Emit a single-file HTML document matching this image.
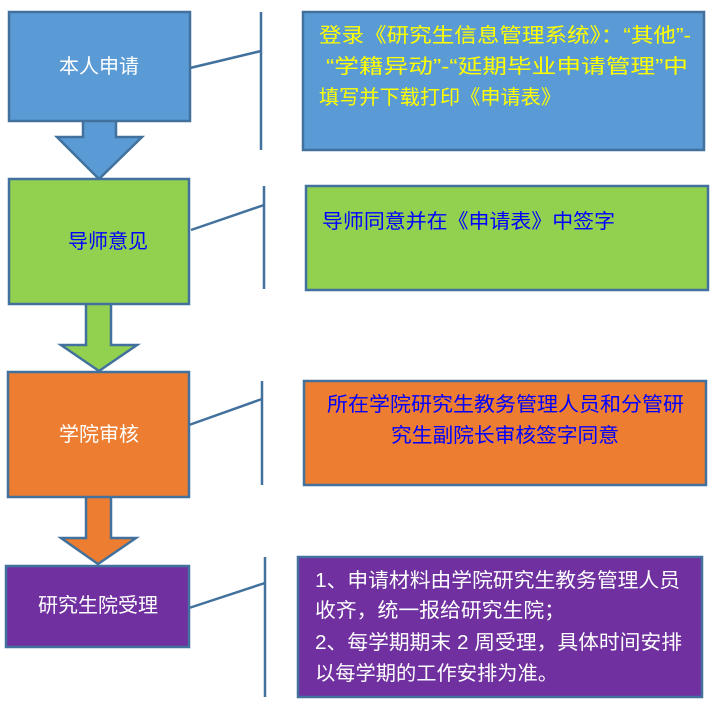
<!DOCTYPE html>
<html><head><meta charset="utf-8"><style>
html,body{margin:0;padding:0;background:#fff;}
svg{display:block;}
text{font-family:"Liberation Sans","Noto Sans CJK SC",sans-serif;font-size:20px;}
</style></head><body>
<svg width="716" height="705" viewBox="0 0 716 705" xmlns="http://www.w3.org/2000/svg">
<g stroke="#41719c" stroke-width="2.5" fill="none">
<polyline points="190,68 261,51"/><line x1="261" y1="12" x2="261" y2="150"/>
<polyline points="191,230 264,205"/><line x1="264" y1="186" x2="264" y2="289"/>
<polyline points="189,425 262,399"/><line x1="262" y1="381" x2="262" y2="485"/>
<polyline points="189,608 265,583"/><line x1="265" y1="557" x2="265" y2="697"/>
</g>
<g stroke="#41719c" stroke-width="2.5">
<!-- arrows -->
<polygon fill="#5b9bd5" points="83,120 116,120 116,137 142,137 99,179 57,137 83,137"/>
<polygon fill="#92d050" points="86,303 111,303 111,345 137,345 99,371 61,345 86,345"/>
<polygon fill="#ed7d31" points="86,496 111,496 111,538 136,538 98,564 61,538 86,538"/>
<!-- left boxes -->
<rect x="9" y="12" width="181" height="109" fill="#5b9bd5"/>
<rect x="9" y="179" width="180" height="125" fill="#92d050"/>
<rect x="8" y="372" width="181" height="125" fill="#ed7d31"/>
<rect x="6" y="566" width="183" height="81" fill="#7030a0"/>
<!-- right boxes -->
<rect x="303" y="12" width="401" height="138" fill="#5b9bd5"/>
<rect x="306" y="186" width="402" height="104" fill="#92d050"/>
<rect x="304" y="381" width="402" height="104" fill="#ed7d31"/>
<rect x="298" y="557" width="404" height="140" fill="#7030a0"/>
</g>
<g dominant-baseline="central">
<text x="99" y="67" fill="#fff" text-anchor="middle">本人申请</text>
<text x="108" y="242" fill="#0000ff" text-anchor="middle">导师意见</text>
<text x="99" y="435" fill="#fff" text-anchor="middle">学院审核</text>
<text x="98" y="606" fill="#fff" text-anchor="middle">研究生院受理</text>

<text x="319" y="36" fill="#ffff00" textLength="372" lengthAdjust="spacingAndGlyphs">登录《研究生信息管理系统》：“其他”-</text>
<text x="326" y="67" fill="#ffff00" textLength="362" lengthAdjust="spacingAndGlyphs">“学籍异动”-“延期毕业申请管理”中</text>
<text x="319" y="98" fill="#ffff00" textLength="242" lengthAdjust="spacingAndGlyphs">填写并下载打印《申请表》</text>

<text x="322" y="222" fill="#0000ff" textLength="293" lengthAdjust="spacingAndGlyphs">导师同意并在《申请表》中签字</text>

<text x="327" y="405" fill="#0000ff" textLength="357" lengthAdjust="spacingAndGlyphs">所在学院研究生教务管理人员和分管研</text>
<text x="391" y="436" fill="#0000ff" textLength="228" lengthAdjust="spacingAndGlyphs">究生副院长审核签字同意</text>

<text x="315" y="581" fill="#fff" textLength="365" lengthAdjust="spacingAndGlyphs">1、申请材料由学院研究生教务管理人员</text>
<text x="315" y="611" fill="#fff" textLength="250" lengthAdjust="spacingAndGlyphs">收齐，统一报给研究生院；</text>
<text x="315" y="643" fill="#fff" textLength="367" lengthAdjust="spacingAndGlyphs">2、每学期期末 2 周受理，具体时间安排</text>
<text x="315" y="674" fill="#fff" textLength="243" lengthAdjust="spacingAndGlyphs">以每学期的工作安排为准。</text>
</g>
</svg>
</body></html>
